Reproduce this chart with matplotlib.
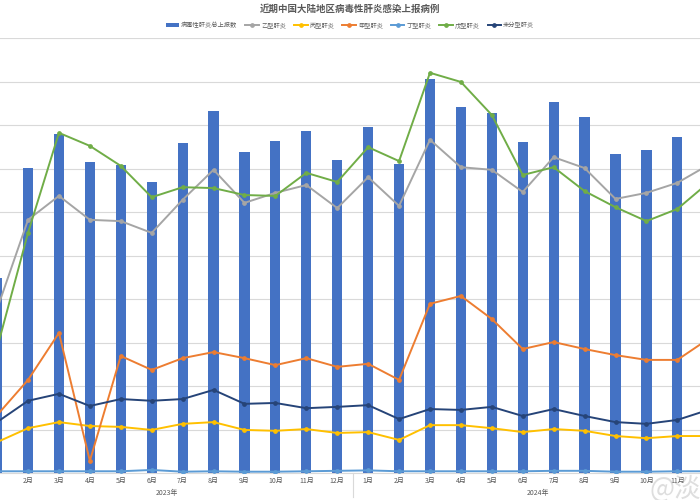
import matplotlib
matplotlib.use("Agg")
import matplotlib.pyplot as plt
import numpy as np

plt.rcParams['font.family'] = ['Noto Sans CJK SC', 'DejaVu Sans']

months = ['1月', '2月', '3月', '4月', '5月', '6月', '7月', '8月', '9月', '10月', '11月', '12月'] * 2
years = ['2023年', '2024年']

total = [4.48, 7.01, 7.79, 7.15, 7.08, 6.69, 7.59, 8.32, 7.38, 7.63, 7.86, 7.20,
         7.95, 7.10, 9.06, 8.41, 8.28, 7.61, 8.53, 8.18, 7.33, 7.43, 7.72, 8.00]
hep_b = [3.77, 5.82, 6.37, 5.82, 5.79, 5.52, 6.28, 6.97, 6.21, 6.44, 6.62, 6.09,
         6.80, 6.14, 7.66, 7.03, 6.97, 6.46, 7.26, 7.01, 6.30, 6.44, 6.67, 7.08]
hep_c = [0.71, 1.03, 1.17, 1.08, 1.06, 0.99, 1.13, 1.17, 0.99, 0.97, 1.01, 0.92,
         0.94, 0.76, 1.10, 1.10, 1.03, 0.94, 1.01, 0.97, 0.85, 0.80, 0.85, 0.85]
hep_a = [1.33, 2.14, 3.22, 0.28, 2.69, 2.37, 2.64, 2.78, 2.64, 2.48, 2.64, 2.44,
         2.51, 2.14, 3.89, 4.07, 3.54, 2.85, 3.01, 2.85, 2.71, 2.60, 2.60, 3.08]
hep_d = [0.04, 0.04, 0.04, 0.04, 0.04, 0.07, 0.03, 0.04, 0.03, 0.03, 0.04, 0.05,
         0.06, 0.04, 0.04, 0.04, 0.04, 0.04, 0.05, 0.05, 0.03, 0.03, 0.04, 0.04]
hep_e = [2.87, 5.52, 7.82, 7.52, 7.06, 6.34, 6.57, 6.55, 6.39, 6.37, 6.90, 6.69,
         7.49, 7.17, 9.20, 8.99, 8.23, 6.85, 7.03, 6.48, 6.11, 5.79, 6.07, 6.67]
hep_u = [1.17, 1.66, 1.82, 1.54, 1.70, 1.66, 1.70, 1.91, 1.59, 1.61, 1.49, 1.52,
         1.56, 1.24, 1.47, 1.45, 1.52, 1.31, 1.47, 1.31, 1.17, 1.13, 1.22, 1.45]

fig = plt.figure(figsize=(7, 5), dpi=100)
ax = fig.add_axes([0, 0.054, 1, 0.87])
x = np.arange(len(months))

ax.bar(x, total, width=0.33, color='#4472C4', label='病毒性肝炎总上报数', zorder=2)
series = [
    (hep_b, '#A5A5A5', '乙型肝炎'),
    (hep_c, '#FFC000', '丙型肝炎'),
    (hep_a, '#ED7D31', '甲型肝炎'),
    (hep_d, '#5B9BD5', '丁型肝炎'),
    (hep_e, '#70AD47', '戊型肝炎'),
    (hep_u, '#264478', '未分型肝炎'),
]
for vals, col, lab in series:
    ax.plot(x, vals, color=col, lw=1.4, marker='o', ms=2.4, label=lab, zorder=3)

ax.set_yticks(np.arange(0, 11, 1))
ax.set_ylim(0, 10)
ax.yaxis.grid(True, color='#D9D9D9', lw=0.8, zorder=0)
ax.set_yticklabels([])
ax.tick_params(axis='both', length=0)
ax.set_xticks(x)
ax.set_xticklabels(months, fontsize=5, color='#595959')
ax.tick_params(axis='x', pad=3)
px = 30.92
ax.set_xlim(2.9 / px, (700 + 2.9) / px)
for s in ['top', 'right', 'left']:
    ax.spines[s].set_visible(False)
ax.spines['bottom'].set_color('#D9D9D9')

# year group labels and separator
trans = ax.get_xaxis_transform()
ax.plot([11.5, 11.5], [0, -0.056], transform=trans, color='#D9D9D9', lw=0.8,
        clip_on=False, scalex=False, scaley=False)
ax.text(5.5, -0.045, years[0], transform=trans, ha='center', va='center', fontsize=5, color='#595959')
ax.text(17.5, -0.045, years[1], transform=trans, ha='center', va='center', fontsize=5, color='#595959')
ax.set_xlim(2.9 / px, (700 + 2.9) / px)

fig.text(0.5, 0.982, '近期中国大陆地区病毒性肝炎感染上报病例', ha='center', va='center',
         fontsize=6.8, fontweight='bold', color='#595959')
h, l = ax.get_legend_handles_labels()
idx = l.index('病毒性肝炎总上报数')
others = [i for i in range(len(l)) if i != idx]
hh = [h[idx]] + [h[i] for i in others]
ll = [l[idx]] + [l[i] for i in others]
leg = fig.legend(hh, ll, loc='center', bbox_to_anchor=(0.5, 0.95), ncol=7, fontsize=4.5,
                 frameon=False, handlelength=2.2, handletextpad=0.3, columnspacing=1.25,
                 handleheight=0.5)
for t in leg.get_texts():
    t.set_color('#595959')

fig.text(0.965, 0.022, '@淡', fontsize=19, color='#C8C8C8', alpha=0.6, ha='center', va='center')

fig.savefig('out.png', dpi=100)
